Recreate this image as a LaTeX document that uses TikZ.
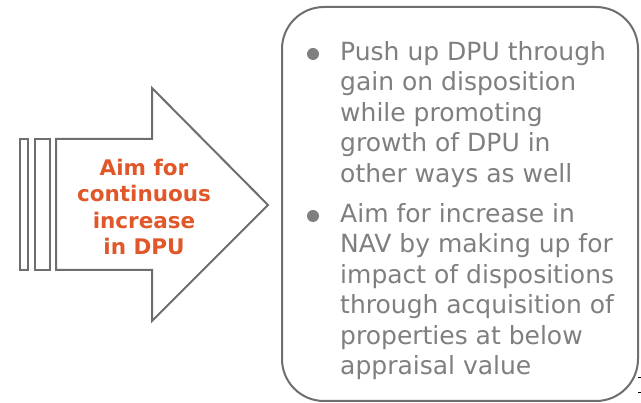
\documentclass[tikz,border=0pt]{standalone}
\usepackage{fontspec}
\setmainfont{DejaVu Sans}
\definecolor{edgegrey}{HTML}{6E6E6E}
\definecolor{txtgrey}{HTML}{7F7F7F}
\definecolor{aimorange}{HTML}{E0582A}
\tikzset{
  outline/.style={draw=edgegrey, line width=2pt, fill=white},
  aimtext/.style={text=aimorange, font=\bfseries\fontsize{21.5}{26.5}\selectfont, align=center},
  bullettext/.style={text=txtgrey, font=\fontsize{25}{30.5}\selectfont, align=left, anchor=north west, inner sep=0pt},
  dotmark/.style={fill=txtgrey, draw=none}
}
\begin{document}
\begin{tikzpicture}[x=1pt,y=-1pt]
\useasboundingbox (0,0) rectangle (641,403);
% bars
\draw[outline] (20,139) rectangle (28,270);
\draw[outline] (35,139) rectangle (50,270);
% arrow
\draw[outline, line join=miter] (56,139) -- (152,139) -- (152,88) -- (268,205) -- (152,321) -- (152,270) -- (56,270) -- cycle;
\node[aimtext] (aim) at (144,207) {Aim for\\continuous\\increase\\in DPU};
% rounded box
\draw[outline, rounded corners=42pt] (282,7) rectangle (638,401);
\coordinate (boxc) at (460,204);
% bullets
\fill[dotmark] (313,54) circle (6);
\node[bullettext] (b1) at (340,41) {Push up DPU through\\gain on disposition\\while promoting\\growth of DPU in\\other ways as well};
\fill[dotmark] (313,216) circle (6);
\node[bullettext] (b2) at (340,203) {Aim for increase in\\NAV by making up for\\impact of dispositions\\through acquisition of\\properties at below\\appraisal value};
% small marks
\fill[black] (638,377) rectangle (641,378.5);
\fill[black] (638,392) rectangle (641,393.5);
\end{tikzpicture}
\end{document}
